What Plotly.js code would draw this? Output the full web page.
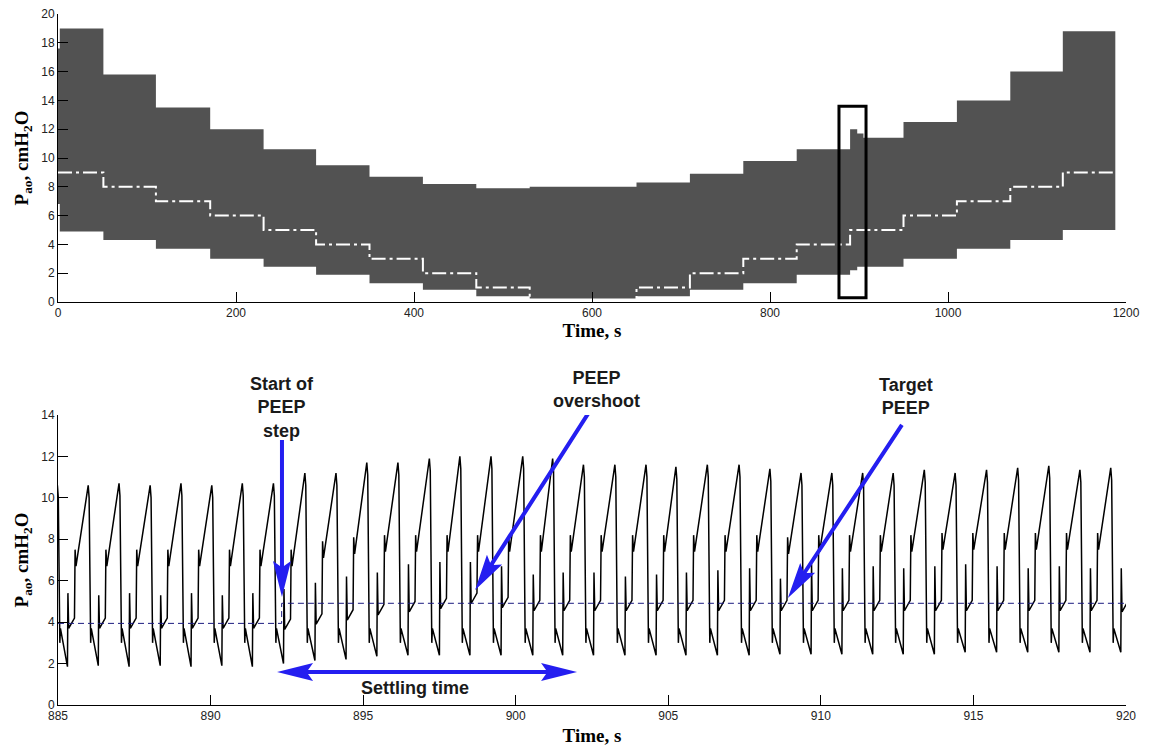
<!DOCTYPE html>
<html>
<head>
<meta charset="utf-8">
<script src="https://cdn.plot.ly/plotly-3.0.1.min.js"></script>
<style>
  html, body { margin: 0; padding: 0; background: #fff; }
  #chart { width: 1157px; height: 752px; }
</style>
</head>
<body>
<div id="chart"></div>
<script>
// PEEP staircase recording (top) and a zoom on one PEEP step (bottom)

// ---- top panel: pressure band envelope for each PEEP step ----
const stepTimes  = [0, 2, 51, 110, 171, 231, 290, 350, 410, 470, 530, 650, 710, 770, 830, 890, 898, 905, 950, 1010, 1070, 1129, 1188];
const bandUpper  = [17.6, 19.0, 15.8, 13.5, 12.0, 10.6, 9.5, 8.7, 8.2, 7.9, 8.0, 8.3, 8.9, 9.8, 10.6, 12.0, 11.7, 11.4, 12.5, 14.0, 16.0, 18.8, 18.8];
const bandLower  = [6.8, 4.9, 4.3, 3.7, 3.0, 2.45, 1.9, 1.3, 0.85, 0.4, 0.25, 0.4, 0.85, 1.3, 1.9, 2.2, 2.45, 2.45, 3.0, 3.7, 4.3, 5.0, 5.0];

const peepTimes  = [0, 51, 110, 171, 231, 290, 350, 410, 470, 530, 650, 710, 770, 830, 890, 950, 1010, 1070, 1129, 1188];
const peepLevels = [9, 8, 7, 6, 5, 4, 3, 2, 1, 0, 1, 2, 3, 4, 5, 6, 7, 8, 9, 9];

// ---- bottom panel: individual breaths around the 4 -> 5 step ----
const peakTimes = [884.98, 885.99, 887.00, 888.02, 889.03, 890.04, 891.04, 892.06, 893.09, 894.11,
                   895.12, 896.14, 897.17, 898.17, 899.19, 900.23, 901.21, 902.22, 903.25, 904.27,
                   905.25, 906.28, 907.32, 908.33, 909.35, 910.36, 911.37, 912.37, 913.39, 914.40,
                   915.43, 916.45, 917.47, 918.49, 919.50];
const peakValues = [10.6, 10.6, 10.7, 10.6, 10.7, 10.6, 10.7, 10.7, 11.2, 11.2,
                    11.7, 11.7, 11.9, 12.0, 12.0, 12.0, 11.9, 11.6, 11.6, 11.6,
                    11.5, 11.6, 11.6, 11.4, 11.2, 11.2, 11.2, 11.2, 11.35, 11.2,
                    11.35, 11.45, 11.55, 11.35, 11.45];
const troughValues = [1.85, 1.9, 1.85, 1.9, 1.85, 1.9, 1.85, 2.0, 2.15, 2.2,
                      2.35, 2.4, 2.4, 2.4, 2.4, 2.4, 2.4, 2.4, 2.4, 2.4,
                      2.4, 2.4, 2.4, 2.45, 2.45, 2.45, 2.45, 2.45, 2.45, 2.55,
                      2.55, 2.55, 2.55, 2.55, 2.55];
const spikeValues = [5.4, 5.3, 5.4, 5.3, 5.4, 5.3, 5.4, 5.6, 5.9, 6.2,
                     6.4, 6.8, 6.9, 6.9, 6.7, 6.3, 6.4, 6.4, 6.2, 6.3,
                     6.4, 6.5, 6.6, 6.1, 6.8, 6.6, 6.7, 6.6, 6.7, 6.8,
                     6.7, 6.6, 6.7, 6.6, 6.6];
const plateauValues = [4.2, 4.2, 4.2, 4.2, 4.2, 4.2, 4.2, 4.15, 4.4, 4.6,
                       4.85, 5.0, 5.15, 5.4, 5.2, 5.05, 5.05, 5.05, 5.05, 5.05,
                       5.05, 5.05, 5.05, 5.05, 5.05, 5.05, 5.05, 5.05, 5.05, 5.05,
                       5.05, 5.05, 5.05, 5.05, 5.0];
const jumpValues = [7.5, 7.5, 7.5, 7.5, 7.5, 7.5, 7.5, 7.5, 7.9, 8.1,
                    8.2, 8.2, 8.2, 8.2, 8.2, 8.2, 8.2, 8.2, 8.2, 8.2,
                    8.2, 8.2, 8.2, 8.1, 8.2, 8.2, 8.2, 8.2, 8.3, 8.3,
                    8.3, 8.3, 8.3, 8.3, 8.3];

const setTimes  = [885, 892.33, 920];
const setLevels = [3.94, 4.91, 4.91];

const bandGray = '#525252';
const arrowBlue = 'rgb(36,30,240)';

// one breath: peak, fast release, exhalation down to trough, trigger spike,
// PEEP plateau, then the inspiratory jump and ramp to the next peak
function buildBreaths() {
    const x = [], y = [];
    for (let k = 0; k < peakTimes.length; k++) {
        const tp = peakTimes[k];
        x.push(tp);          y.push(peakValues[k]);
        x.push(tp + 0.03);   y.push(peakValues[k] - 0.6);
        x.push(tp + 0.08);   y.push(3.0);
        x.push(tp + 0.10);   y.push(3.7);
        x.push(tp + 0.33);   y.push(troughValues[k]);
        x.push(tp + 0.345);  y.push(spikeValues[k]);
        x.push(tp + 0.37);   y.push(plateauValues[k] - 0.5);
        x.push(tp + 0.56);   y.push(plateauValues[k]);
        x.push(tp + 0.58);   y.push(jumpValues[k]);
        x.push(tp + 0.61);   y.push(jumpValues[k] - 0.8);
    }
    return { x, y };
}

const breaths = buildBreaths();

const traces = [
    {
        x: stepTimes, y: bandLower, xaxis: 'x', yaxis: 'y',
        mode: 'lines', line: { shape: 'hv', width: 0, color: bandGray },
        hoverinfo: 'skip'
    },
    {
        x: stepTimes, y: bandUpper, xaxis: 'x', yaxis: 'y',
        mode: 'lines', line: { shape: 'hv', width: 0, color: bandGray },
        fill: 'tonexty', fillcolor: bandGray, hoverinfo: 'skip'
    },
    {
        x: peepTimes, y: peepLevels, xaxis: 'x', yaxis: 'y',
        mode: 'lines', line: { shape: 'hv', width: 2, color: '#ffffff', dash: '14px,4px,3px,4px' }
    },
    {
        x: breaths.x, y: breaths.y, xaxis: 'x2', yaxis: 'y2',
        mode: 'lines', line: { width: 1.5, color: '#000000' }
    },
    {
        x: setTimes, y: setLevels, xaxis: 'x2', yaxis: 'y2',
        mode: 'lines', line: { shape: 'hv', width: 1, color: '#1c1c80', dash: '6px,4px' }
    }
];

// filled arrow (with notched head) drawn in pixels around its tip
function arrowPath(tailDx, tailDy, twoHeads) {
    const len = Math.hypot(tailDx, tailDy);
    const ux = -tailDx / len, uy = -tailDy / len;
    const nx = -uy, ny = ux;
    const H = 36, W = 9, N = 5, S = 2;
    const pts = twoHeads
        ? [[0, 0], [-H, W], [-H + N, S], [-len + H - N, S], [-len + H, W], [-len, 0],
           [-len + H, -W], [-len + H - N, -S], [-H + N, -S], [-H, -W]]
        : [[0, 0], [-H, W], [-H + N, S], [-len, S], [-len, -S], [-H + N, -S], [-H, -W]];
    return pts.map(([a, b], i) => {
        const sx = a * ux + b * nx, sy = a * uy + b * ny;
        return (i ? 'L' : 'M') + sx.toFixed(1) + ',' + (-sy).toFixed(1);
    }).join(' ') + ' Z';
}

function arrowShape(tipX, tipY, tailDx, tailDy, twoHeads) {
    return {
        type: 'path', xref: 'x2', yref: 'y2',
        xsizemode: 'pixel', ysizemode: 'pixel',
        xanchor: tipX, yanchor: tipY,
        path: arrowPath(tailDx, tailDy, twoHeads),
        fillcolor: arrowBlue, line: { width: 0 }, layer: 'above'
    };
}

const noteFont = { family: 'Liberation Sans, Arial, sans-serif', size: 18, color: '#1a1a1a', weight: 'bold' };
const titleFont = { family: 'Liberation Serif, Times New Roman, serif', size: 19, color: '#000', weight: 'bold' };

// labels above the lower panel sit outside its y range, so they use paper y
function note(x, y, text, yref) {
    return { x, y, xref: 'x2', yref: yref || 'y2', text, showarrow: false, font: noteFont,
             xanchor: 'center', yanchor: 'middle' };
}

const axisStyle = {
    showline: true, linecolor: '#000', linewidth: 1,
    ticks: 'inside', ticklen: 10, tickwidth: 1, tickcolor: '#000',
    showgrid: false, zeroline: false, mirror: false,
    tickfont: { family: 'Liberation Sans, Arial, sans-serif', size: 12, color: '#222' }
};

const layout = {
    width: 1157, height: 752,
    margin: { l: 58, r: 31, t: 14, b: 47 },
    paper_bgcolor: '#fff', plot_bgcolor: '#fff',
    showlegend: false,
    xaxis: { ...axisStyle, domain: [0, 1], range: [0, 1200], dtick: 200, anchor: 'y',
             title: { text: 'Time, s', font: titleFont, standoff: 4 } },
    yaxis: { ...axisStyle, domain: [0.5832, 1], range: [0, 20], dtick: 2, anchor: 'x',
             title: { text: 'P<sub>ao</sub>, cmH<sub>2</sub>O', font: titleFont, standoff: 7 } },
    xaxis2: { ...axisStyle, domain: [0, 1], range: [885, 920], dtick: 5, anchor: 'y2',
              title: { text: 'Time, s', font: titleFont, standoff: 6 } },
    yaxis2: { ...axisStyle, domain: [0, 0.4197], range: [0, 14], dtick: 2, anchor: 'x2',
              title: { text: 'P<sub>ao</sub>, cmH<sub>2</sub>O', font: titleFont, standoff: 7 } },
    shapes: [
        { type: 'rect', xref: 'x', yref: 'y', x0: 877.5, x1: 907.9, y0: 0.3, y1: 13.6,
          line: { color: '#000', width: 3 }, fillcolor: 'rgba(0,0,0,0)' },
        arrowShape(892.34, 5.21, 0, -157, false),
        arrowShape(898.67, 5.55, 114, -178, false),
        arrowShape(908.92, 5.17, 114, -173, false),
        arrowShape(902.01, 1.59, -300, 0, true)
    ],
    annotations: [
        note(892.34, 0.4305, 'Start of<br>PEEP<br>step', 'paper'),
        note(902.65, 0.4573, 'PEEP<br>overshoot', 'paper'),
        note(912.78, 0.4465, 'Target<br>PEEP', 'paper'),
        note(896.71, 0.82, 'Settling time')
    ]
};

Plotly.newPlot('chart', traces, layout, { displayModeBar: false, responsive: false });
</script>
</body>
</html>
